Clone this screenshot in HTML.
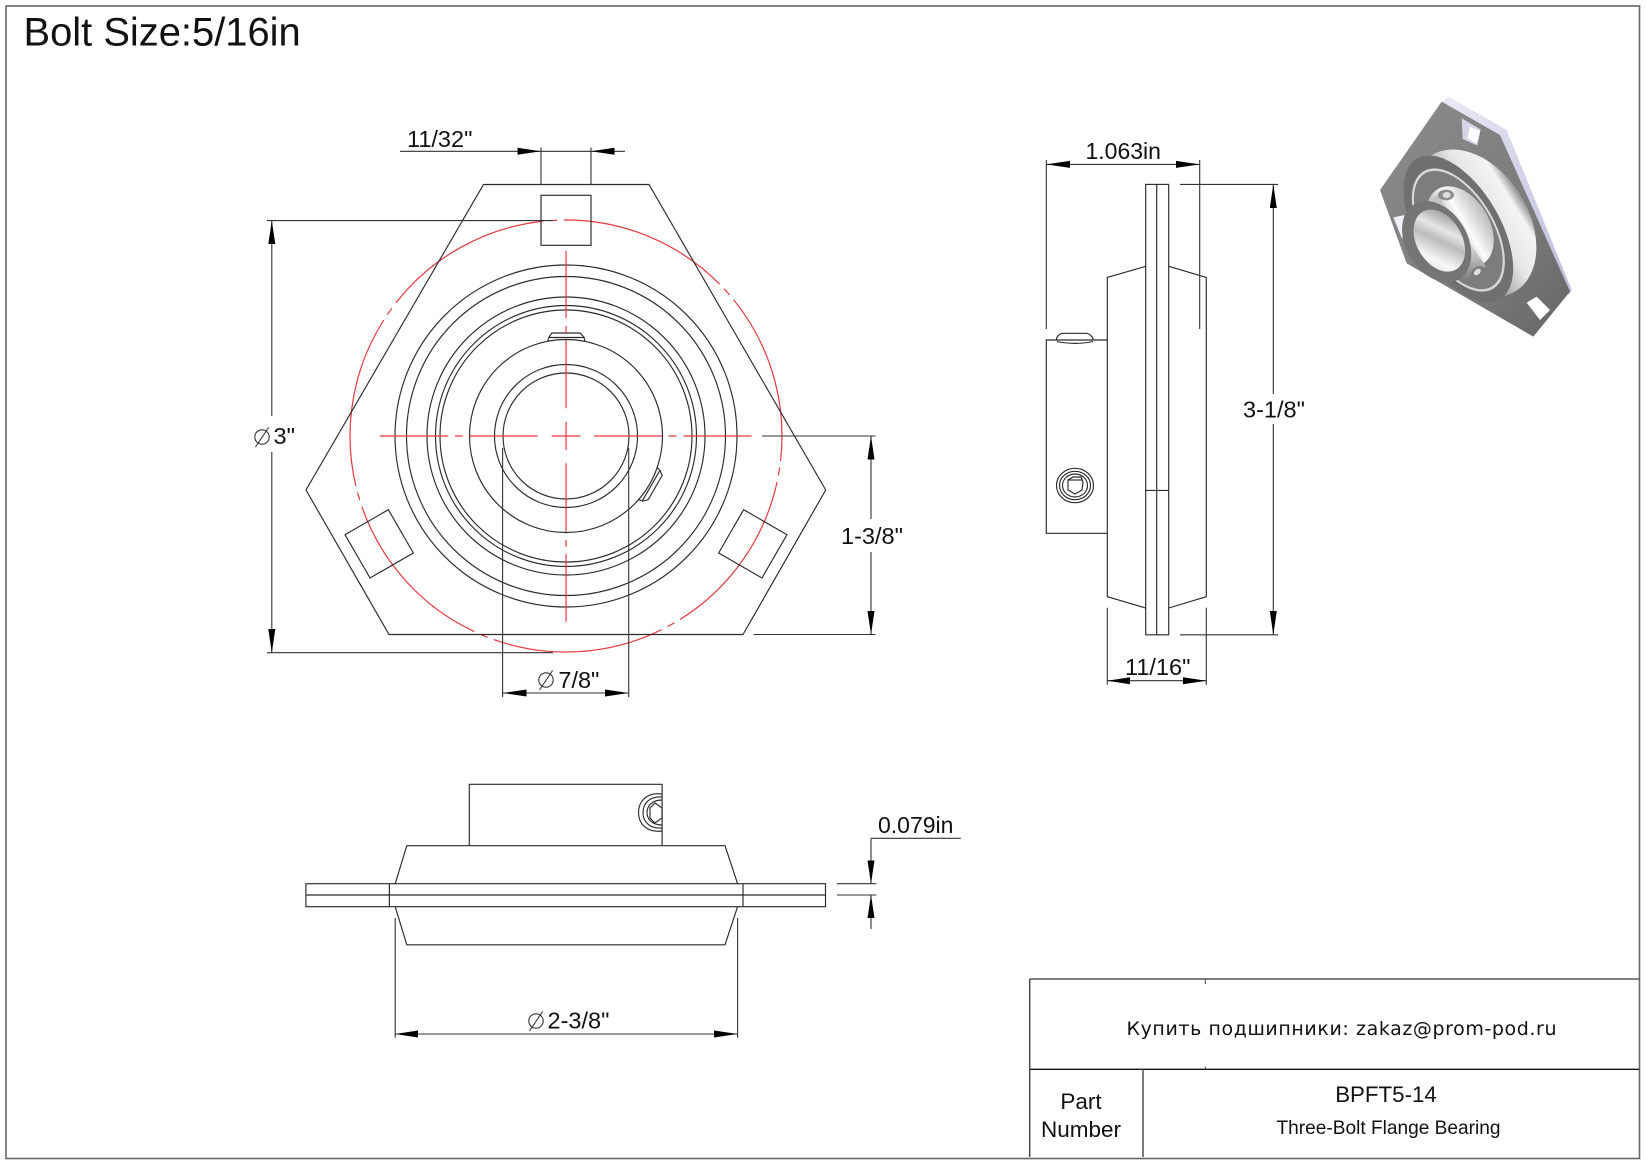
<!DOCTYPE html>
<html><head><meta charset="utf-8"><style>
html,body{margin:0;padding:0;background:#fff}
svg{display:block}
text{font-family:"Liberation Sans",Arial,sans-serif;fill:#111}
.l{stroke:#2a2a2a;stroke-width:1.15;fill:none}
.d{stroke:#333;stroke-width:1.1;fill:none}
.r{stroke:#e8393f;stroke-width:1.2;fill:none}
.a{fill:#000}
.t{font-size:23.5px}
</style></head><body>
<svg width="1647" height="1165" viewBox="0 0 1647 1165" xmlns="http://www.w3.org/2000/svg">
<defs>
<linearGradient id="plate" x1="0" y1="0" x2="1" y2="1"><stop offset="0" stop-color="#8c8c8c"/><stop offset=".6" stop-color="#7c7c7c"/><stop offset="1" stop-color="#666"/></linearGradient>
<linearGradient id="lav" x1="0" y1="0" x2="1" y2="1"><stop offset="0" stop-color="#eaeaf6"/><stop offset="1" stop-color="#bdbcdc"/></linearGradient>
<linearGradient id="dome" x1="0" y1="0" x2="0" y2="1"><stop offset="0" stop-color="#8f8f8f"/><stop offset=".1" stop-color="#f4f4f4"/><stop offset=".35" stop-color="#e6e6e6"/><stop offset=".6" stop-color="#a8a8a8"/><stop offset="1" stop-color="#888"/></linearGradient>
<linearGradient id="cyl" x1="0" y1="0" x2="0" y2="1"><stop offset="0" stop-color="#bbb"/><stop offset=".4" stop-color="#fbfbfb"/><stop offset=".7" stop-color="#c4c4c4"/><stop offset="1" stop-color="#777"/></linearGradient>
<linearGradient id="bore" x1="0" y1="0" x2="1" y2="1"><stop offset="0" stop-color="#777"/><stop offset=".35" stop-color="#e6e6e6"/><stop offset=".5" stop-color="#bbb"/><stop offset=".75" stop-color="#f6f6f6"/><stop offset="1" stop-color="#ddd"/></linearGradient>
<filter id="b"><feGaussianBlur stdDeviation="1"/></filter>
</defs>

<rect x="6" y="6" width="1633.5" height="1152.5" fill="none" stroke="#666" stroke-width="1.6"/>
<text x="23.5" y="45.5" style="font-size:39.9px">Bolt Size:5/16in</text>

<!-- FRONT VIEW -->
<circle class="r" cx="566" cy="436" r="216" stroke-dasharray="172.88 6.5 8 6.5" stroke-dashoffset="147.7"/>
<polygon class="l" points="483.5,184.5 649,184.5 825.7,490 743,634.5 389,634.5 306,490"/>
<rect class="l" x="541" y="195.3" width="50" height="50"/>
<rect class="l" x="541" y="195.3" width="50" height="50" transform="rotate(120 566 436)"/>
<rect class="l" x="541" y="195.3" width="50" height="50" transform="rotate(240 566 436)"/>
<g class="l">
<circle cx="566" cy="436" r="63"/><circle cx="566" cy="436" r="71.5"/><circle cx="566" cy="436" r="96.5"/>
<circle cx="566" cy="436" r="126"/><circle cx="566" cy="436" r="130.5"/><circle cx="566" cy="436" r="139"/>
<circle cx="566" cy="436" r="159.5"/><circle cx="566" cy="436" r="171"/>
</g>
<g transform="translate(566 436)" class="l">
<path d="M-18.5,-94.5 L-17,-99 L-14,-103 L14,-103 L18,-99 L19,-94.5 M-17,-98.5 L18,-98.5"/>
<path transform="rotate(120)" d="M-18.5,-94.5 L-17,-99 L-14,-103 L14,-103 L18,-99 L19,-94.5 M-17,-98.5 L18,-98.5"/>
</g>
<g class="r">
<path d="M380 436H448.3M455 436H462.7M469.3 436H537.7M551.7 436H580.7M594 436H662.3M668.3 436H676.7M683.3 436H751.7"/>
<path d="M566 250.7V318.3M566 326V333M566 340V408.3M566 421.7V450M566 463.3V531.7M566 540V546.7M566 554V621.7"/>
</g>

<!-- dims front -->
<g class="d">
<path d="M400 151.3H625M541 147.5V184.5M591 147.5V184.5"/>
<path d="M267 220.6H553M267 652.7H553M271.8 220.6V416M271.8 452V652.7"/>
<path d="M762 436H875.5M753.5 634.5H875.5M871 436V519M871 552V634.5"/>
<path d="M502.6 448V697M628.7 448V697M502.6 693H628.7"/>
</g>
<polygon class="a" points="541,151.3 517.5,147.8 517.5,154.8"/>
<polygon class="a" points="591,151.3 614.5,147.8 614.5,154.8"/>
<polygon class="a" points="271.8,220.6 268.3,244 275.3,244"/>
<polygon class="a" points="271.8,652.7 268.3,629 275.3,629"/>
<polygon class="a" points="871,436 867.5,459.5 874.5,459.5"/>
<polygon class="a" points="871,634.5 867.5,611 874.5,611"/>
<polygon class="a" points="502.6,693 526.5,689.5 526.5,696.5"/>
<polygon class="a" points="628.7,693 605,689.5 605,696.5"/>
<text class="t" x="407" y="147">11/32"</text>
<text class="t" x="273.5" y="444">3"</text>
<circle cx="262" cy="437" r="7.2" class="d"/><path class="d" d="M255.5 447L268.6 427.5"/>
<text class="t" x="841" y="544">1-3/8"</text>
<text class="t" x="558.4" y="688">7/8"</text>
<circle cx="546" cy="680" r="7.2" class="d"/><path class="d" d="M539.5 690L552.6 670.5"/>

<!-- RIGHT VIEW -->
<g class="l">
<rect x="1145.7" y="184.4" width="23" height="450.4"/>
<path d="M1156.7 184.4V634.8M1145.7 490.4H1168.7"/>
<path d="M1145.7 266.3L1107.3 277.4V596.7L1145.7 608M1168.7 266.3L1206.3 277.4V596.7L1168.7 608"/>
<path d="M1107.3 340H1046.3V533.3H1107.3"/>
<path d="M1056.3 340C1056.5 337 1059 333.5 1063 333.3H1086C1090 333.5 1093 337 1093.3 340M1057 341.5C1068 344 1082 344 1093 341.5"/>
<ellipse cx="1075" cy="485.5" rx="18.5" ry="17.2"/>
<ellipse cx="1075" cy="485.5" rx="15.5" ry="14.2"/>
<ellipse cx="1075" cy="485.5" rx="12.5" ry="11.5"/>
<polygon points="1068,480 1073,477 1081,477 1083,482 1082,490 1075,494 1068,490"/>
<path d="M1068 480H1082"/>
</g>
<g class="d">
<path d="M1046.3 160V329M1199.7 160V329M1046.3 164.4H1199.7"/>
<path d="M1180 184.4H1278M1180 634.8H1278M1273.3 184.4V394M1273.3 424V634.8"/>
<path d="M1107.3 607.8V684.8M1206.3 607.8V684.8M1107.3 680.7H1206.3"/>
</g>
<polygon class="a" points="1046.3,164.4 1070,160.9 1070,167.9"/>
<polygon class="a" points="1199.7,164.4 1176,160.9 1176,167.9"/>
<polygon class="a" points="1273.3,184.4 1269.8,208 1276.8,208"/>
<polygon class="a" points="1273.3,634.8 1269.8,611 1276.8,611"/>
<polygon class="a" points="1107.3,680.7 1130,677.2 1130,684.2"/>
<polygon class="a" points="1206.3,680.7 1183,677.2 1183,684.2"/>
<text x="1085.5" y="159" style="font-size:23px">1.063in</text>
<text class="t" x="1243" y="417.4">3-1/8"</text>
<text class="t" x="1125" y="675">11/16"</text>

<!-- BOTTOM VIEW -->
<g class="l">
<rect x="305.9" y="883.7" width="519.6" height="23"/>
<path d="M305.9 895H825.5M389.4 883.7V906.7M743 883.7V906.7"/>
<path d="M395.2 883.7L406.8 845.7H725L737.6 883.7"/>
<path d="M395.2 906.7L406.8 944.8H725L737.6 906.7"/>
<path d="M469.3 845.7V784.3H662.1V845.7"/>
<path d="M662.1 794 C646 792 638.5 802 638.5 812.5 C638.5 823 646 833 662.1 831"/>
<path d="M662.1 797 C650 796 643 803 643 812.5 C643 822 650 829 662.1 828"/>
<path d="M662.1 800 C652 800 647 806 647 812.5 C647 819 652 825 662.1 825"/>
<polygon points="655,803 662,808 662,818 655,823 650,818 650,808"/>
</g>
<g class="d">
<path d="M395.2 918V1037.7M737.6 918V1037.7M395.2 1034H737.6"/>
<path d="M871 838.3H960.8M871 838.3V883.7M871 895V929M837 883.7H876.4M837 895H876.4"/>
</g>
<polygon class="a" points="395.2,1034 418,1030.5 418,1037.5"/>
<polygon class="a" points="737.6,1034 714,1030.5 714,1037.5"/>
<polygon class="a" points="871,883.7 867.5,860.5 874.5,860.5"/>
<polygon class="a" points="871,895 867.5,918 874.5,918"/>
<text class="t" x="547.5" y="1028.5">2-3/8"</text>
<circle cx="536" cy="1021" r="7.2" class="d"/><path class="d" d="M529.5 1031L542.6 1011.5"/>
<text x="878" y="833" style="font-size:23px">0.079in</text>

<!-- 3D VIEW -->
<g transform="translate(1360 80) scale(.33333)">
<polygon points="245,65 265,50 440,150 635,630 625,645 420,165" fill="url(#lav)" filter="url(#b)"/>
<polygon points="245,65 420,165 630,635 520,770 140,550 60,330" fill="url(#plate)" filter="url(#b)"/>
<polygon points="305,115 362,148 352,197 308,177" fill="#d5d5e6" filter="url(#b)"/>
<polygon points="330,140 360,153 350,192 322,174" fill="#fff" filter="url(#b)"/>
<polygon points="500,668 530,650 570,690 540,720" fill="#fff" filter="url(#b)"/>
<polygon points="100,412 135,405 127,478" fill="#f0f0f8" filter="url(#b)"/>
<g filter="url(#b)">
<ellipse cx="340" cy="430" rx="240" ry="165" transform="rotate(58 340 430)" fill="url(#dome)"/>
<ellipse cx="295" cy="447" rx="245" ry="125" transform="rotate(59.5 295 447)" fill="#6f6f6f"/>
<ellipse cx="295" cy="450" rx="205" ry="108" transform="rotate(59.5 295 450)" fill="#d8d8d8"/>
<ellipse cx="295" cy="450" rx="197" ry="102" transform="rotate(59.5 295 450)" fill="#7d7d7d"/>
<ellipse cx="300" cy="440" rx="131" ry="88" transform="rotate(59 300 440)" fill="url(#cyl)"/>
<polygon points="152,395 235,345 378,560 310,605" fill="url(#cyl)"/>
<ellipse cx="258" cy="345" rx="24" ry="16" fill="#8d8d8d"/>
<ellipse cx="260" cy="345" rx="12" ry="9" fill="#dedede"/>
<ellipse cx="352" cy="578" rx="24" ry="16" transform="rotate(-40 352 578)" fill="#7b7b7b"/>
<ellipse cx="352" cy="576" rx="12" ry="8" transform="rotate(-40 352 576)" fill="#ddd"/>
<ellipse cx="230" cy="485" rx="131" ry="92" transform="rotate(59 230 485)" fill="#747474"/>
<ellipse cx="238" cy="482" rx="100" ry="68" transform="rotate(60 238 482)" fill="url(#bore)"/>
</g>
</g>

<!-- TITLE BLOCK -->
<g>
<path d="M1029.7 979H1639" stroke="#555" stroke-width="1.6" fill="none"/>
<path d="M1029.7 1069.3H1639" stroke="#111" stroke-width="1.3" fill="none"/>
<path d="M1029.7 979V1157M1143 1069.3V1157" stroke="#444" stroke-width="1.4" fill="none"/>
<path d="M1205.3 979V984M1205.3 1066.5V1069.3" stroke="#444" stroke-width="1" fill="none"/>
</g>
<text x="1126.5" y="1035" textLength="430" lengthAdjust="spacing" style="font-family:'DejaVu Sans',sans-serif;font-size:19px">Купить подшипники: zakaz@prom-pod.ru</text>
<text x="1081" y="1109" text-anchor="middle" style="font-size:22.5px">Part</text>
<text x="1081" y="1137" text-anchor="middle" style="font-size:22.5px">Number</text>
<text x="1386" y="1102" text-anchor="middle" style="font-size:22.3px">BPFT5-14</text>
<text x="1388.5" y="1134" text-anchor="middle" style="font-size:19.1px">Three-Bolt Flange Bearing</text>
</svg>
</body></html>
